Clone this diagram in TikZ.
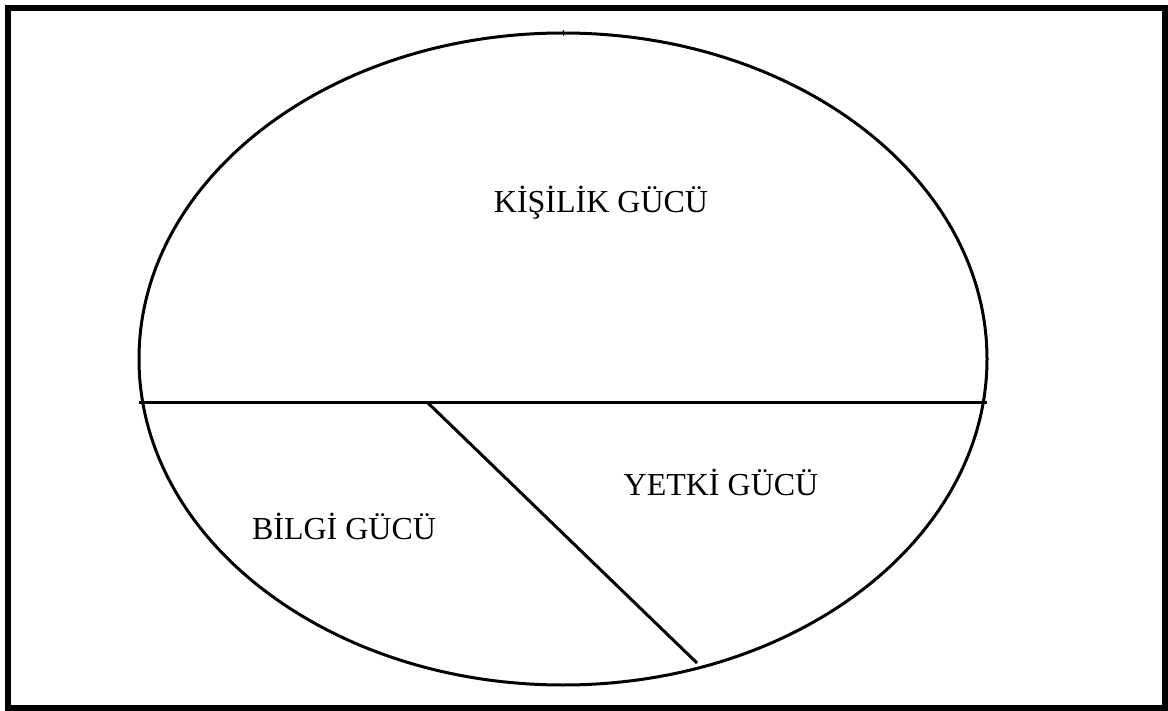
\documentclass[tikz,border=0pt]{standalone}
\usepackage{fontspec}
\setmainfont{Liberation Serif}
\begin{document}
\begin{tikzpicture}[x=1pt,y=-1pt,
    label/.style={anchor=base,inner sep=0pt,font=\fontsize{32}{36}\selectfont}]
  \useasboundingbox (0,0) rectangle (1168,711);
  % outer frame
  \draw[line width=6pt] (8,8) rectangle (1165,708);
  % ellipse
  \draw[line width=3pt] (563,359) ellipse (424 and 326);
  % small tick on top
  \draw[line width=1pt] (563,30) -- (563,36);
  % dividing lines
  \coordinate (hl) at (139,403);
  \coordinate (hr) at (987,403);
  \coordinate (dtop) at (428,403);
  \coordinate (dbot) at (697,663);
  \draw[line width=3pt] (hl) -- (hr);
  \draw[line width=3pt] (dtop) -- (dbot);
  % labels
  \node[label] (kisilik) at (601,213) {KİŞİLİK GÜCÜ};
  \node[label] (yetki) at (721,495) {YETKİ GÜCÜ};
  \node[label] (bilgi) at (344,539) {BİLGİ GÜCÜ};
\end{tikzpicture}
\end{document}
